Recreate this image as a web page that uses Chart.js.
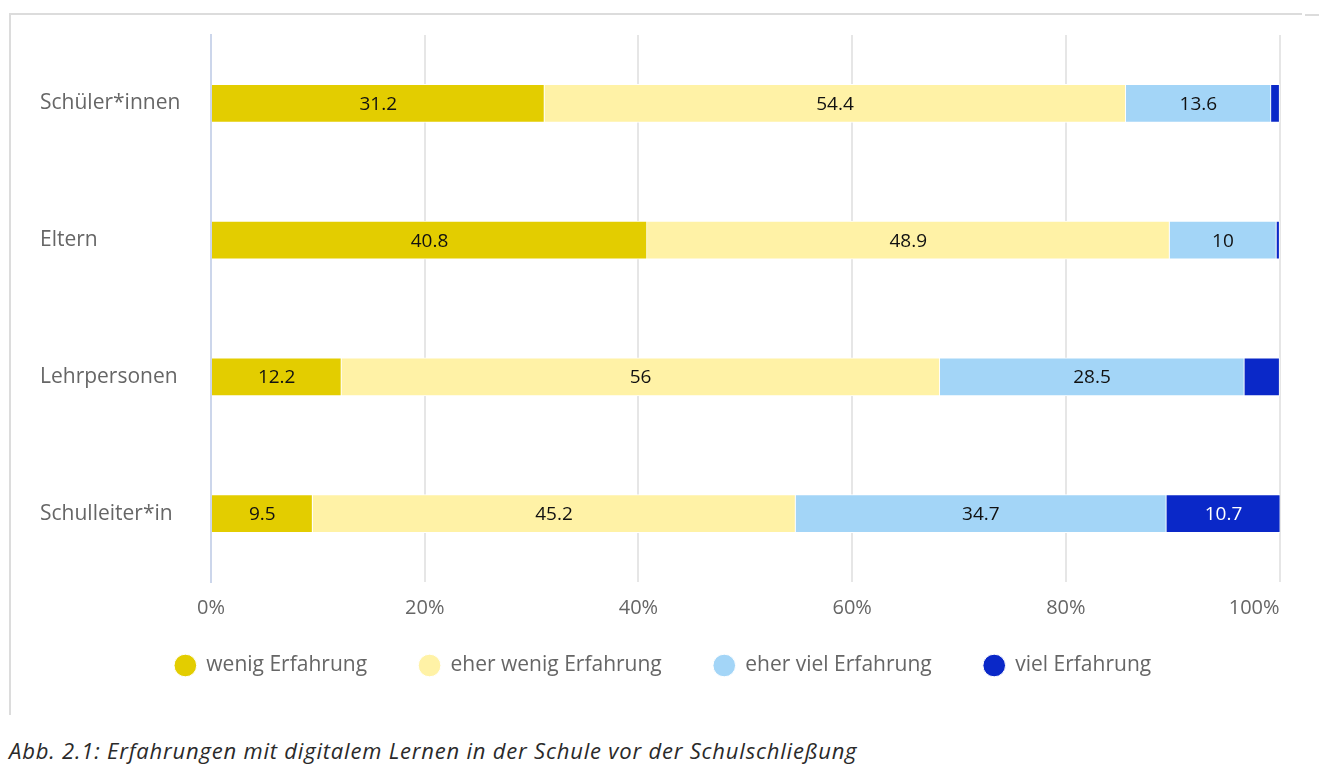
<!DOCTYPE html>
<html>
<head>
<meta charset="utf-8">
<script src="https://cdn.jsdelivr.net/npm/chart.js@4"></script>
<style>
  body { margin: 0; background: #fff; font-family: "Open Sans", sans-serif; }
  #frame { position: absolute; left: 9px; top: 13px; width: 1291px; height: 700px;
           border-top: 2px solid #dcdcdc; border-left: 2px solid #dcdcdc; }
  #frame2 { position: absolute; left: 1305px; top: 14px; width: 14px; border-top: 2px solid #dcdcdc; }
  #wrap { position: absolute; left: 0; top: 0; width: 1319px; height: 723px; }
  #caption { position: absolute; left: 9px; top: 735px; font-style: italic; font-size: 22px;
             letter-spacing: 0.8px; color: #2a2a2a; }
</style>
</head>
<body>
<div id="frame"></div>
<div id="frame2"></div>
<div id="wrap"><canvas id="bars"></canvas></div>
<div id="caption">Abb. 2.1: Erfahrungen mit digitalem Lernen in der Schule vor der Schulschließung</div>
<script>
var categories = ['Schüler*innen', 'Eltern', 'Lehrpersonen', 'Schulleiter*in'];
var wenig = [31.2, 40.8, 12.2, 9.5];
var eherWenig = [54.4, 48.9, 56, 45.2];
var eherViel = [13.6, 10, 28.5, 34.7];
var viel = [0.8, 0.3, 3.3, 10.7];
var seriesNames = ['wenig Erfahrung', 'eher wenig Erfahrung', 'eher viel Erfahrung', 'viel Erfahrung'];
var colors = ['#e3cd00', '#fff2a6', '#a3d5f7', '#0a28c8'];
var labelColors = ['#111', '#111', '#111', '#fff'];
var tickFont = '20px "Open Sans", sans-serif';

// draw the value inside each segment (only when it is wide enough)
var segmentLabels = {
    id: 'segmentLabels',
    afterDatasetsDraw: function (chart) {
        var ctx = chart.ctx;
        ctx.save();
        ctx.font = '19px "Open Sans", sans-serif';
        ctx.textAlign = 'center';
        ctx.textBaseline = 'middle';
        chart.data.datasets.forEach(function (ds, i) {
            chart.getDatasetMeta(i).data.forEach(function (bar, j) {
                if (ds.data[j] < 5) return;
                ctx.fillStyle = labelColors[i];
                ctx.fillText(String(ds.data[j]), (bar.x + bar.base) / 2, bar.y + 1);
            });
        });
        ctx.restore();
    }
};

// the last x label ends at the gridline instead of being centred on it
var lastTick = {
    id: 'lastTick',
    afterDraw: function (chart) {
        var x = chart.scales.x;
        var ctx = chart.ctx;
        ctx.save();
        ctx.font = tickFont;
        ctx.fillStyle = '#666';
        ctx.textAlign = 'right';
        ctx.textBaseline = 'middle';
        ctx.fillText(x.max + '%', x.getPixelForValue(x.max), x.top + 14 + 12);
        ctx.restore();
    }
};

// legend items need wide horizontal gaps but sit closer to the axis
var liftLegend = {
    id: 'liftLegend',
    afterLayout: function (chart) {
        chart.legend.top -= 31;
        chart.legend.bottom -= 31;
    }
};

var ctx = document.getElementById('bars').getContext('2d');
var myChart = new Chart(ctx, {
    type: 'bar',
    data: {
        labels: categories,
        datasets: [wenig, eherWenig, eherViel, viel].map(function (d, i) {
            return {
                label: seriesNames[i],
                data: d,
                backgroundColor: colors[i],
                borderColor: '#fff',
                borderWidth: 1,
                barThickness: 38
            };
        })
    },
    options: {
        indexAxis: 'y',
        responsive: true,
        maintainAspectRatio: false,
        animation: false,
        layout: { padding: { left: 40, right: 33, top: 35, bottom: 6 } },
        scales: {
            x: {
                stacked: true,
                min: 0,
                max: 100,
                ticks: {
                    stepSize: 20,
                    padding: 14,
                    color: function (c) { return c.tick && c.tick.value === 100 ? 'rgba(0,0,0,0)' : '#666'; },
                    font: { family: 'Open Sans', size: 20 },
                    callback: function (v) { return v + '%'; }
                },
                grid: { color: '#e6e6e6', lineWidth: 2, drawTicks: false },
                border: { display: false }
            },
            y: {
                stacked: true,
                afterFit: function (scale) { scale.width = 171; },
                ticks: {
                    crossAlign: 'far',
                    color: '#666',
                    font: { family: 'Open Sans', size: 21 }
                },
                grid: { display: false },
                border: { color: '#ccd6eb', width: 2 }
            }
        },
        plugins: {
            legend: {
                position: 'bottom',
                labels: {
                    usePointStyle: true,
                    pointStyle: 'circle',
                    boxHeight: 16,
                    padding: 52,
                    color: '#666',
                    font: { family: 'Open Sans', size: 21 }
                }
            },
            tooltip: { enabled: false }
        }
    },
    plugins: [segmentLabels, lastTick, liftLegend]
});
</script>
</body>
</html>
